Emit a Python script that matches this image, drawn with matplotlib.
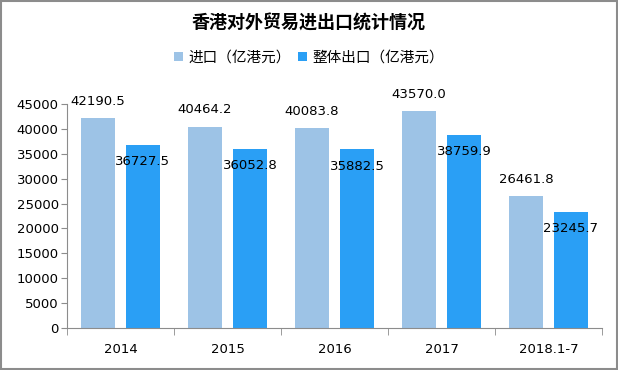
import matplotlib
matplotlib.use("Agg")
import matplotlib.pyplot as plt
from matplotlib.patches import Rectangle
import numpy as np

plt.rcParams['font.family'] = ['Noto Sans CJK SC', 'DejaVu Sans']
NUM = ['DejaVu Sans']

categories = ["2014", "2015", "2016", "2017", "2018.1-7"]
imports = [42190.5, 40464.2, 40083.8, 43570.0, 26461.8]
exports = [36727.5, 36052.8, 35882.5, 38759.9, 23245.7]
series_names = ["进口（亿港元）", "整体出口（亿港元）"]
title = "香港对外贸易进出口统计情况"

c_imp = "#9DC3E6"
c_exp = "#2A9FF5"

fig = plt.figure(figsize=(6.18, 3.70), dpi=100)
fig.patches.append(Rectangle((0.0015, 0.0025), 0.997, 0.995, transform=fig.transFigure,
                             fill=False, edgecolor="#8c8c8c", linewidth=1.5))
ax = fig.add_axes([0.1084, 0.1135, 0.8656, 0.6055])

x = np.arange(len(categories))
w = 0.32
off = 0.21
b1 = ax.bar(x - off, imports, w, color=c_imp, label=series_names[0])
b2 = ax.bar(x + off, exports, w, color=c_exp, label=series_names[1])

for xi, v in zip(x, imports):
    ax.annotate(f"{v:.1f}", (xi - off, v), xytext=(0, 12), textcoords="offset points",
                ha="center", va="center", fontsize=9.5, family=NUM, color="black")
for xi, v in zip(x, exports):
    ax.annotate(f"{v:.1f}", (xi + off, v), xytext=(0, -12), textcoords="offset points",
                ha="center", va="center", fontsize=9.5, family=NUM, color="black")

ax.set_xlim(-0.5, len(categories) - 0.5)
ax.set_ylim(0, 45000)
ax.set_yticks(np.arange(0, 45001, 5000))
ax.tick_params(axis="y", labelsize=9.5, length=4, color="#8c8c8c", pad=2)
ax.set_xticks(x)
ax.set_xticklabels(categories)
ax.tick_params(axis="x", labelsize=9.5, length=0, pad=11)
for lbl in ax.get_xticklabels() + ax.get_yticklabels():
    lbl.set_family(NUM)
ax.set_xticks(np.arange(-0.5, len(categories)), minor=True)
ax.tick_params(axis="x", which="minor", length=5, color="#8c8c8c")
for s in ["top", "right"]:
    ax.spines[s].set_visible(False)
for s in ["left", "bottom"]:
    ax.spines[s].set_color("#8c8c8c")

fig.text(0.5, 0.937, title, ha="center", va="center", fontsize=13, fontweight="bold")
fig.legend(handles=[b1, b2], loc="center", bbox_to_anchor=(0.5, 0.845), ncol=2, frameon=False,
           fontsize=10.5, handlelength=0.6, handleheight=0.6, handletextpad=0.4, columnspacing=0.5)

fig.savefig("out.png", dpi=100)
